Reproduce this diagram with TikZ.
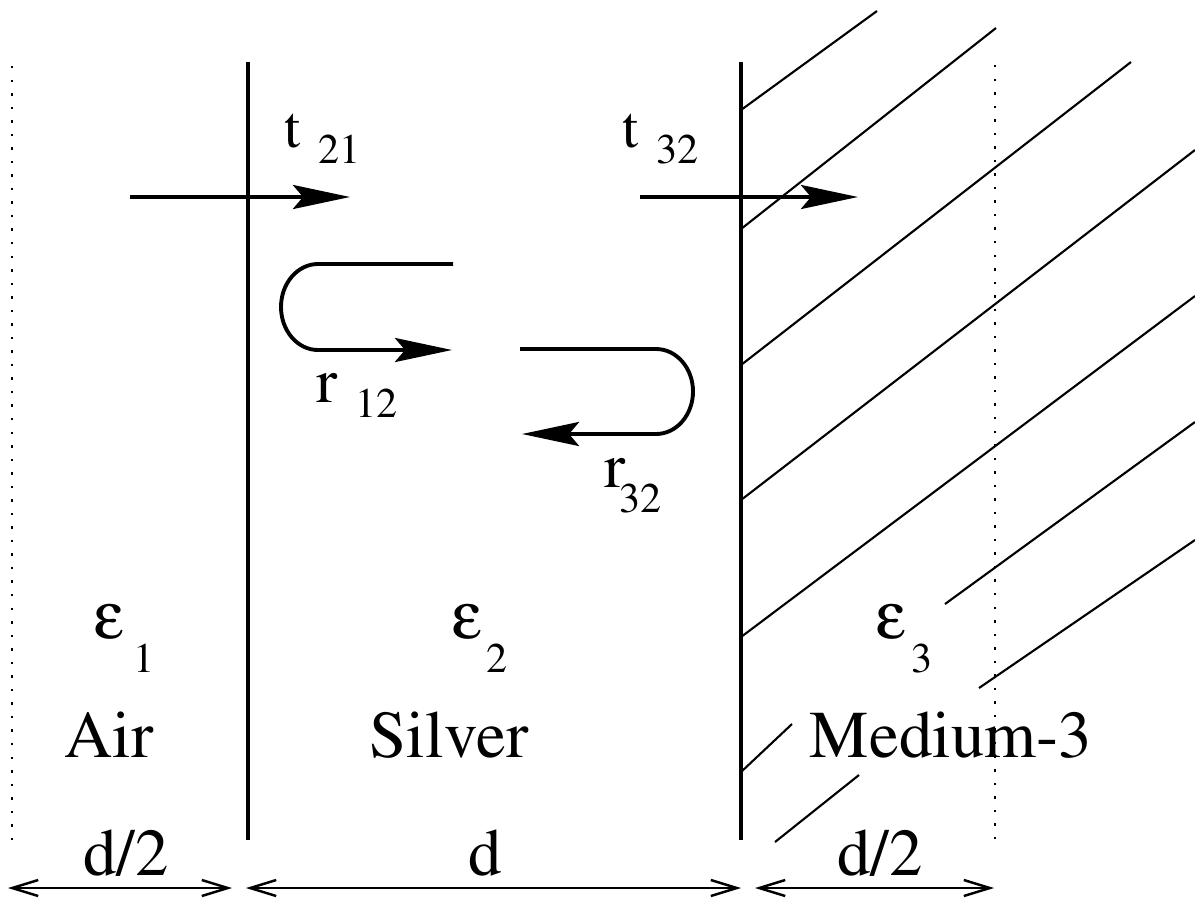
\documentclass[tikz,border=0pt]{standalone}
\usepackage[T1]{fontenc}
\usepackage{mathptmx}
\usepackage{pifont}
\usetikzlibrary{arrows.meta, positioning}
\newcommand{\epsglyph}{\Pisymbol{psy}{101}}
\tikzstyle{wall} = [line width=1.1pt]
\tikzstyle{celledge} = [line width=0.6pt, dash pattern=on 0.7pt off 3.15pt]
\tikzstyle{hatch} = [line width=0.6pt]
\tikzstyle{arrow} = [line width=1.1pt, -{Stealth[length=5.7mm, width=2.4mm, inset=1mm]}]
\tikzstyle{dimarrow} = [line width=0.7pt, {Straight Barb[length=2.6mm, width=1.6mm]}-{Straight Barb[length=2.6mm, width=1.6mm]}]
\tikzstyle{lbl} = [inner sep=0pt, anchor=base, font=\fontsize{19}{22}\selectfont]
\tikzstyle{coef} = [inner sep=0pt, anchor=base west, font=\fontsize{16.5}{19}\selectfont]
\tikzstyle{sublbl} = [inner sep=0pt, anchor=base west, font=\fontsize{12}{14}\selectfont]

\begin{document}
\begin{tikzpicture}[x=0.01cm, y=-0.01cm]
    \useasboundingbox (0,0) rectangle (1195,903);

    % boundaries of the cell and the two interfaces
    \coordinate (cl) at (12,66);    \coordinate (cl') at (12,840);
    \coordinate (cr) at (995,65);   \coordinate (cr') at (995,842);
    \coordinate (w1) at (248,62);   \coordinate (w1') at (248,840);
    \coordinate (w2) at (741,62);   \coordinate (w2') at (741,840);
    \draw [celledge] (cl) -- (cl');
    \draw [wall] (w1) -- (w1');
    \draw [wall] (w2) -- (w2');

    % hatching of medium 3
    \draw [hatch] (741,110) -- (877,11);
    \draw [hatch] (741,229) -- (996,28);
    \draw [hatch] (741,365) -- (1131,62);
    \draw [hatch] (741,500) -- (1195,150);
    \draw [hatch] (741,637) -- (1195,296);
    \draw [hatch] (741,772) -- (792,724);
    \draw [hatch] (945,604) -- (1195,422);
    \draw [hatch] (775,842) -- (859,775);
    \draw [hatch] (979,688) -- (1195,540);
    \draw [celledge] (cr) -- (cr');

    % transmitted waves
    \coordinate (a1) at (130,197);  \coordinate (b1) at (350,197);
    \coordinate (a2) at (640,197);  \coordinate (b2) at (858,197);
    \draw [arrow] (a1) -- (b1);
    \draw [arrow] (a2) -- (b2);
    \node (t21) [coef] at (284,147) {t};
    \node (t21s) [sublbl, base right=0.16cm of t21, yshift=-0.16cm] {21};
    \node (t32) [coef] at (622,147) {t};
    \node (t32s) [sublbl, base right=0.16cm of t32, yshift=-0.16cm] {32};

    % reflected waves
    \coordinate (p1) at (453,264);  \coordinate (q1) at (452,350);
    \coordinate (p2) at (520,349);  \coordinate (q2) at (522,434);
    \draw [arrow] (p1) -- (318,264) arc [start angle=-90, end angle=-270, x radius=37, y radius=43] -- (q1);
    \draw [arrow] (p2) -- (656,349) arc [start angle=-90, end angle=90, x radius=37, y radius=42.5] -- (q2);
    \node (r12) [coef, font=\fontsize{18}{21}\selectfont] at (316,402) {r};
    \node (r12s) [sublbl, base right=0.16cm of r12, yshift=-0.15cm] {12};
    \node (r32) [coef, font=\fontsize{18}{21}\selectfont] at (604,487) {r};
    \node (r32s) [sublbl] at (619,512) {32};

    % media
    \node (eps1) [lbl, anchor=base west] at (94,638) {\epsglyph};
    \node (eps1s) [sublbl] at (133,672) {1};
    \node (eps2) [lbl, anchor=base west] at (452,638) {\epsglyph};
    \node (eps2s) [sublbl] at (486,672) {2};
    \node (eps3) [lbl, anchor=base west] at (876,638) {\epsglyph};
    \node (eps3s) [sublbl] at (911,672) {3};
    \node (air) [lbl] at (109,757) {Air};
    \node (silver) [lbl] at (449,757) {Silver};
    \node (med3) [lbl] at (951,757) {Medium-3};

    % thicknesses
    \node (dl) [lbl] at (126,875) {d/2};
    \node (dm) [lbl] at (485,875) {d};
    \node (dr) [lbl] at (880,875) {d/2};
    \coordinate (e0) at (8,888);    \coordinate (e1) at (232,888);
    \coordinate (e2) at (246,888);  \coordinate (e3) at (741,888);
    \coordinate (e4) at (755,888);  \coordinate (e5) at (994,888);
    \draw [dimarrow] (e0) -- (e1);
    \draw [dimarrow] (e2) -- (e3);
    \draw [dimarrow] (e4) -- (e5);
\end{tikzpicture}
\end{document}
